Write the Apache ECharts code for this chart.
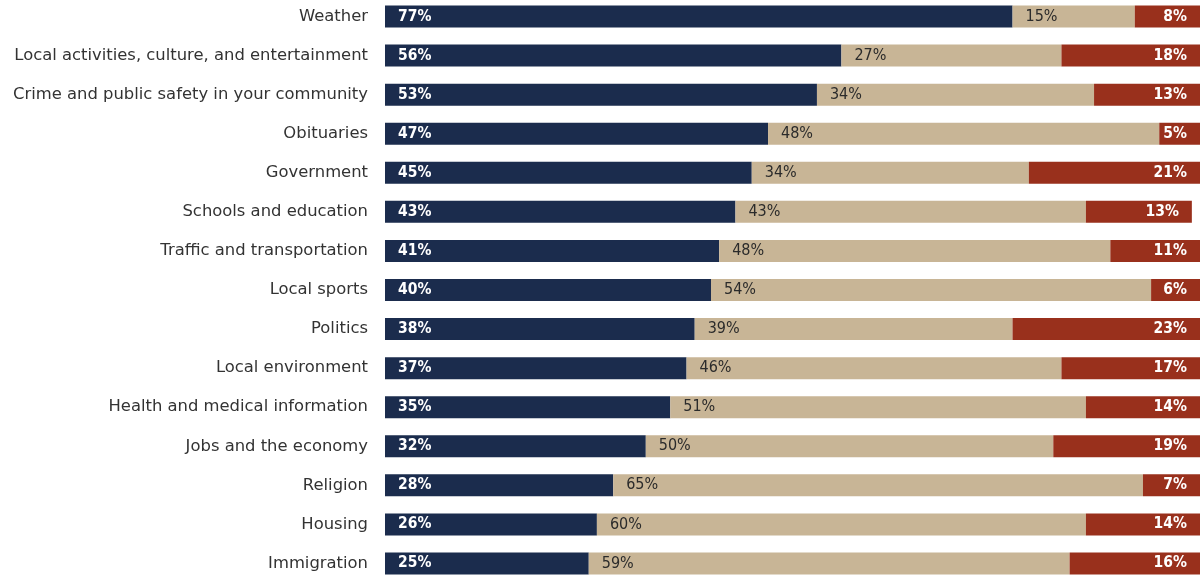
<!DOCTYPE html>
<html>
<head>
<meta charset="utf-8">
<script src="https://cdn.jsdelivr.net/npm/echarts@6/dist/echarts.min.js"></script>
<style>
  html, body { margin: 0; padding: 0; background: #ffffff; }
  #chart { width: 1201px; height: 577px; }
</style>
</head>
<body>
<div id="chart"></div>
<script>
// Topics, top to bottom
const topics = [
  'Weather',
  'Local activities, culture, and entertainment',
  'Crime and public safety in your community',
  'Obituaries',
  'Government',
  'Schools and education',
  'Traffic and transportation',
  'Local sports',
  'Politics',
  'Local environment',
  'Health and medical information',
  'Jobs and the economy',
  'Religion',
  'Housing',
  'Immigration'
];

// Share of respondents per topic (%)
const firstShare  = [77, 56, 53, 47, 45, 43, 41, 40, 38, 37, 35, 32, 28, 26, 25];
const middleShare = [15, 27, 34, 48, 34, 43, 48, 54, 39, 46, 51, 50, 65, 60, 59];
const lastShare   = [8, 18, 13, 5, 21, 13, 11, 6, 23, 17, 14, 19, 7, 14, 16];

const LABEL_FONT = '"DejaVu Sans", sans-serif';
const VALUE_FONT = '"DejaVu Sans Condensed", "DejaVu Sans", sans-serif';

const chart = echarts.init(document.getElementById('chart'), null, { renderer: 'canvas' });

function pct(p) { return p.value + '%'; }

chart.setOption({
  animation: false,
  grid: {
    left: 385, right: 1, top: -3, bottom: -6,
    containLabel: false,
    outerBoundsMode: 'none'
  },
  xAxis: {
    type: 'value', min: 0, max: 100,
    show: false
  },
  yAxis: {
    type: 'category',
    data: topics,
    inverse: true,
    axisLine: { show: false },
    axisTick: { show: false },
    axisLabel: {
      color: '#333333',
      fontFamily: LABEL_FONT,
      fontSize: 16.4,
      margin: 17
    }
  },
  series: [
    {
      name: 'first', type: 'bar', stack: 'all', barWidth: 22,
      data: firstShare,
      itemStyle: { color: '#1b2c4d' },
      label: {
        show: true, position: 'insideLeft', distance: 13, formatter: pct,
        color: '#ffffff', fontFamily: VALUE_FONT, fontSize: 15.5, fontWeight: 'bold'
      }
    },
    {
      name: 'middle', type: 'bar', stack: 'all', barWidth: 22,
      data: middleShare,
      itemStyle: { color: '#c8b596' },
      label: {
        show: true, position: 'insideLeft', distance: 13, formatter: pct,
        color: '#2b2b2b', fontFamily: VALUE_FONT, fontSize: 16
      }
    },
    {
      name: 'last', type: 'bar', stack: 'all', barWidth: 22,
      data: lastShare,
      itemStyle: { color: '#99301c' },
      label: {
        show: true, position: 'insideRight', distance: 13, formatter: pct,
        color: '#ffffff', fontFamily: VALUE_FONT, fontSize: 15.5, fontWeight: 'bold'
      }
    }
  ]
});
</script>
</body>
</html>
